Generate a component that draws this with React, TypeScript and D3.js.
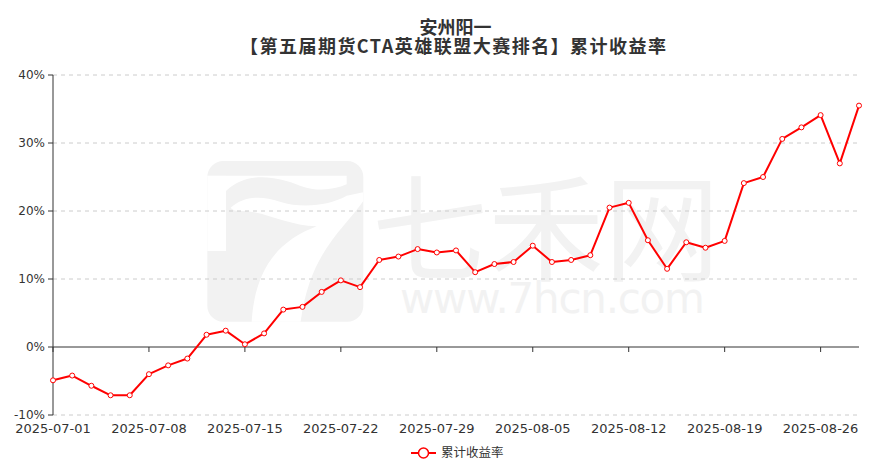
import React from "react";
import * as d3 from "d3";

const dates: string[] = [
  "2025-07-01","2025-07-02","2025-07-03","2025-07-04","2025-07-07",
  "2025-07-08","2025-07-09","2025-07-10","2025-07-11","2025-07-14",
  "2025-07-15","2025-07-16","2025-07-17","2025-07-18","2025-07-21",
  "2025-07-22","2025-07-23","2025-07-24","2025-07-25","2025-07-28",
  "2025-07-29","2025-07-30","2025-07-31","2025-08-01","2025-08-04",
  "2025-08-05","2025-08-06","2025-08-07","2025-08-08","2025-08-11",
  "2025-08-12","2025-08-13","2025-08-14","2025-08-15","2025-08-18",
  "2025-08-19","2025-08-20","2025-08-21","2025-08-22","2025-08-25",
  "2025-08-26","2025-08-27","2025-08-28",
];

const returns: number[] = [
  -4.9, -4.2, -5.7, -7.1, -7.1, -4.0, -2.7, -1.7, 1.8, 2.4,
  0.4, 2.0, 5.5, 5.9, 8.1, 9.8, 8.8, 12.8, 13.3, 14.4,
  13.9, 14.2, 11.0, 12.2, 12.5, 14.9, 12.5, 12.8, 13.5, 20.5,
  21.2, 15.7, 11.5, 15.4, 14.6, 15.6, 24.1, 25.0, 30.6, 32.3,
  34.1, 27.0, 35.5,
];

const yTicks: number[] = [-10, 0, 10, 20, 30, 40];
const titleLines: string[] = ["安州阳一", "【第五届期货CTA英雄联盟大赛排名】累计收益率"];
const seriesName = "累计收益率";
const labelEvery = 5;

const W = 893;
const H = 474;
const left = 53;
const right = 859;
const top = 75;
const bottom = 415;

const cjk = "'Noto Sans CJK SC', 'DejaVu Sans', sans-serif";
const latin = "'DejaVu Sans', sans-serif";

export default function App() {
  const x = d3.scalePoint<string>().domain(dates).range([left, right]);
  const y = d3.scaleLinear().domain([-10, 40]).range([bottom, top]);
  const line = d3
    .line<number>()
    .x((_, i) => x(dates[i]) as number)
    .y((d) => y(d));
  const xLabelIdx = dates.map((_, i) => i).filter((i) => i % labelEvery === 0);

  return (
    <svg
      width={W}
      height={H}
      style={{ position: "absolute", left: 0, top: 0, background: "#fff" }}
    >
      {/* watermark */}
      <g fill="#f2f2f2">
        <g transform="translate(200,155) scale(0.3333)">
          <rect x={22} y={18} width={468} height={482} rx={48} />
          <rect x={22} y={62} width={56} height={226} fill="#fff" />
          <path
            d="M78,62 H440 V88 C400,106 350,110 300,92 C230,64 140,48 78,108 Z"
            fill="#fff"
          />
          <path
            d="M92,158 C130,124 180,120 240,140 C310,162 390,150 440,122 L490,112 L490,138 C430,225 330,290 302,500 L155,500 C165,340 235,258 350,214 C260,212 190,165 118,168 C105,168 96,164 92,158 Z"
            fill="#fff"
          />
        </g>
        <text x={372} y={272} fontSize={116} fontFamily={cjk}>七禾网</text>
        <text
          x={400}
          y={313}
          fontSize={42}
          fontFamily={latin}
          textLength={305}
          lengthAdjust="spacing"
        >
          www.7hcn.com
        </text>
      </g>

      {/* title */}
      <g fontFamily={cjk} fontWeight="bold" fontSize={18} fill="#333">
        <text x={455.5} y={34} textAnchor="middle">{titleLines[0]}</text>
        <text x={240} y={53} textLength={426} lengthAdjust="spacing">
          {titleLines[1]}
        </text>
      </g>

      {/* grid lines */}
      {yTicks
        .filter((t) => t !== 0)
        .map((t) => (
          <line
            key={"g" + t}
            x1={left}
            x2={right}
            y1={y(t)}
            y2={y(t)}
            stroke="#ccc"
            strokeDasharray="4,4"
          />
        ))}

      {/* y axis */}
      <line x1={left} x2={left} y1={top} y2={bottom} stroke="#333" />
      {yTicks.map((t) => (
        <g key={"y" + t}>
          <line x1={left - 5} x2={left} y1={y(t)} y2={y(t)} stroke="#333" />
          <text
            x={left - 8}
            y={y(t)}
            dy="0.35em"
            textAnchor="end"
            fontSize={12}
            fontFamily={latin}
            fill="#333"
          >
            {t + "%"}
          </text>
        </g>
      ))}

      {/* x axis on zero */}
      <line x1={left} x2={right} y1={y(0)} y2={y(0)} stroke="#333" />
      {xLabelIdx.map((i) => (
        <g key={"x" + i}>
          <line
            x1={x(dates[i])}
            x2={x(dates[i])}
            y1={y(0)}
            y2={y(0) + 5}
            stroke="#333"
          />
          <text
            x={x(dates[i])}
            y={433}
            textAnchor="middle"
            fontSize={13}
            fontFamily={latin}
            fill="#333"
          >
            {dates[i]}
          </text>
        </g>
      ))}

      {/* series */}
      <path d={line(returns) || ""} fill="none" stroke="#ff0000" strokeWidth={2} strokeLinejoin="round" />
      {returns.map((v, i) => (
        <circle
          key={"p" + i}
          cx={x(dates[i])}
          cy={y(v)}
          r={2.5}
          fill="#fff"
          stroke="#ff0000"
          strokeWidth={1}
        />
      ))}

      {/* legend */}
      <g>
        <line x1={411} x2={436} y1={453} y2={453} stroke="#ff0000" strokeWidth={2} />
        <circle cx={423.5} cy={453} r={5} fill="#fff" stroke="#ff0000" strokeWidth={1.5} />
        <text x={441} y={453} dy="0.35em" fontSize={12.5} fontFamily={cjk} fill="#333">
          {seriesName}
        </text>
      </g>
    </svg>
  );
}
